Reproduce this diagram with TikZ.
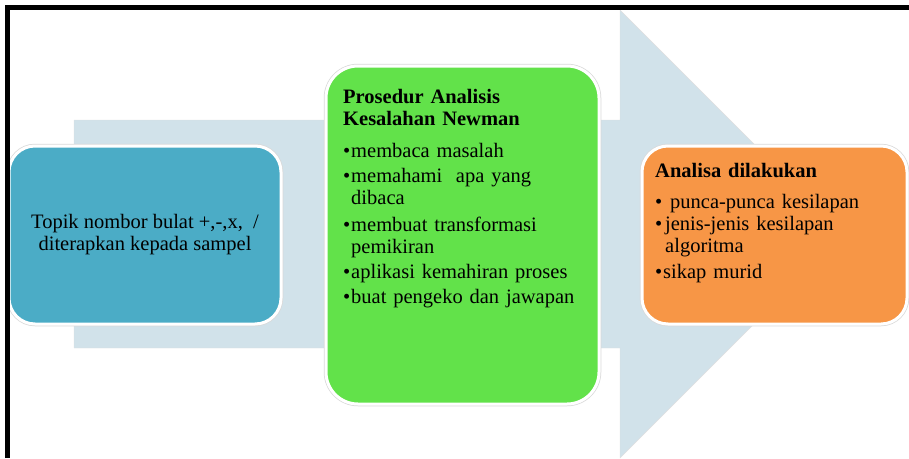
\documentclass[tikz,border=0pt]{standalone}
\usepackage{fontspec}
\setmainfont{Liberation Serif}
\definecolor{latar}{HTML}{D1E2EA}
\definecolor{biru}{HTML}{4BACC6}
\definecolor{hijau}{HTML}{62E24A}
\definecolor{oren}{HTML}{F79646}
\newcommand{\titik}[1][8pt]{\makebox[#1][l]{\textbullet}}
\newcommand{\sambung}[1][8pt]{\hspace*{#1}}
\tikzset{
	kotak/.style={rectangle, rounded corners=26pt, draw=white, line width=3pt, preaction={draw=black!15, line width=4.5pt}, inner sep=0pt, outer sep=0pt},
	isi/.style={anchor=base west, inner sep=0pt, text width=255pt, align=left, font=\fontsize{20.5}{22}\selectfont}
}
\begin{document}
\begin{tikzpicture}[x=1pt,y=-1pt]
	\useasboundingbox (0,0) rectangle (909,458);
	\filldraw[fill=latar, draw=black!12] (74,120) -- (620,120) -- (620,10) -- (844,234) -- (620,458) -- (620,348) -- (74,348) -- cycle;
	\node[kotak, fill=biru, minimum width=272pt, minimum height=178pt, align=center, font=\fontsize{20.5}{22}\selectfont] (topik) at (145,235) {Topik nombor bulat +,-,x,\ \ /\\diterapkan kepada sampel};
	\node[kotak, fill=hijau, rounded corners=32pt, minimum width=273pt, minimum height=338pt] (prosedur) at (462.5,235) {};
	\node[kotak, fill=oren, minimum width=265pt, minimum height=178pt] (analisa) at (774.5,235) {};
	\node[isi] (prosedur-isi) at ([xshift=17pt,yshift=-37pt]prosedur.north west) {\textbf{Prosedur Analisis}\\
		\textbf{Kesalahan Newman}\\[10pt]
		\titik membaca masalah\\[3pt]
		\titik memahami\ \ apa yang\\
		\sambung dibaca\\[5pt]
		\titik membuat transformasi\\
		\sambung pemikiran\\[3pt]
		\titik aplikasi kemahiran proses\\[3pt]
		\titik buat pengeko dan jawapan};
	\node[isi] (analisa-isi) at ([xshift=13pt,yshift=-31pt]analisa.north west) {\textbf{Analisa dilakukan}\\[9pt]
		\titik[15pt]punca-punca kesilapan\\
		\titik[10pt]jenis-jenis kesilapan\\
		\sambung[10pt]algoritma\\[4pt]
		\titik sikap murid};
	\draw[line width=5pt] (7.5,458) -- (7.5,7.5) -- (909,7.5);
\end{tikzpicture}
\end{document}
